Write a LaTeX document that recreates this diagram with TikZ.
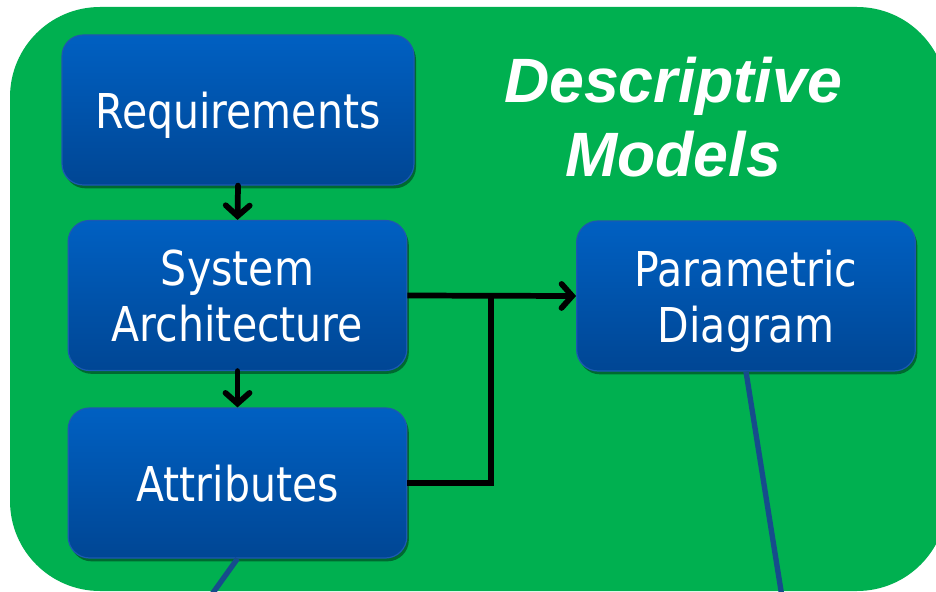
\documentclass[tikz,border=0pt]{standalone}
\usepackage{fontspec}
\usetikzlibrary{arrows.meta,shadows}
\newfontfamily\boxfont[FakeStretch=0.855]{DejaVu Sans}
\newfontfamily\titlefont{Liberation Sans}
\definecolor{bggreen}{RGB}{0,176,80}
\definecolor{boxtop}{RGB}{0,96,194}
\definecolor{boxbot}{RGB}{0,70,148}
\definecolor{boxedge}{RGB}{28,88,178}
\definecolor{linkblue}{RGB}{22,76,140}
\tikzset{
  mbox/.style={rectangle, rounded corners=16pt, draw=boxedge, line width=0.9pt,
    top color=boxtop, bottom color=boxbot, text=white, align=center,
    minimum height=112.5pt, inner sep=0pt, text depth=0pt,
    font=\boxfont\fontsize{36}{42}\selectfont,
    drop shadow={shadow xshift=1.5pt, shadow yshift=-2.5pt, opacity=0.4, fill=black}},
  flow/.style={line width=4.3pt, draw=black, line cap=round, line join=miter},
  flowtip/.style={-{Straight Barb[length=8pt,width=18pt,line cap=round]}},
  link/.style={line width=4pt, draw=linkblue}
}
\begin{document}
\begin{tikzpicture}[x=0.75pt,y=-0.75pt]
\path[use as bounding box] (0,0) rectangle (936,592);
\clip (0,0) rectangle (936,592);
\fill[white] (0,0) rectangle (936,592);
\fill[bggreen, rounded corners=67.5pt] (10,7) rectangle (947,591);

\node[font=\titlefont\bfseries\itshape\fontsize{47}{55.5}\selectfont, text=white, align=center]
  (title) at (673,117.5) {Descriptive\\Models};

\node[mbox, minimum width=264pt] (req) at (238,110) {Requirements};
\node[mbox, minimum width=254pt] (sys) at (237.5,295.5) {System\\Architecture};
\node[mbox, minimum width=254pt] (attr) at (237.5,483) {Attributes};
\node[mbox, minimum width=254pt] (par) at (746,296) {Parametric\\Diagram};

\coordinate (junc) at (491,296);
\coordinate (parend) at (782,597);
\coordinate (attrend) at (210,597);

\draw[link] (par.south) -- (parend);
\draw[link] (attr.south) -- (attrend);

\draw[flow, flowtip] (req.south) -- (sys.north);
\draw[flow, flowtip] (sys.south) -- (attr.north);
\draw[flow, flowtip, line cap=butt] (sys.east) -- (par.west);
\draw[flow, line cap=butt] (attr.east) -| (junc);
\end{tikzpicture}
\end{document}
